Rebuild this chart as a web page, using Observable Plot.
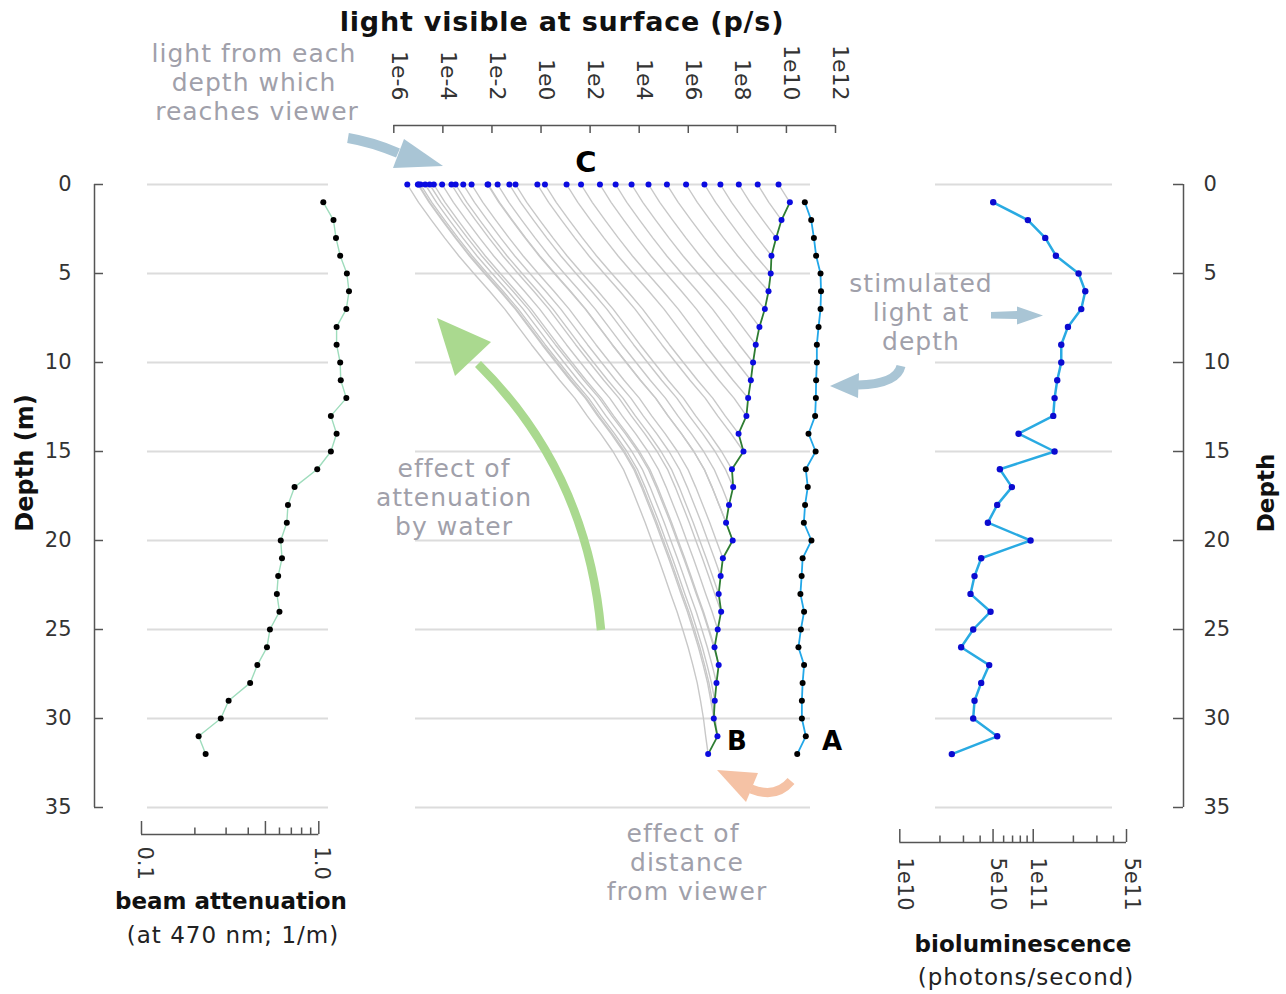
<!DOCTYPE html>
<html><head><meta charset="utf-8">
<script src="https://cdn.jsdelivr.net/npm/d3@7"></script>
<script src="https://cdn.jsdelivr.net/npm/@observablehq/plot@0.6"></script>
<style>
html,body{margin:0;padding:0;background:#fff;}
#chart{position:relative;width:1286px;height:994px;overflow:hidden;background:#fff;font-family:"DejaVu Sans",sans-serif;}
#chart svg{position:absolute;left:0;top:0;}
</style></head><body><div id="chart"></div>
<script>
// ---------------- data ----------------
const depth = [1,2,3,4,5,6,7,8,9,10,11,12,13,14,15,16,17,18,19,20,21,22,23,24,25,26,27,28,29,30,31,32];
const depthTicks = [0,5,10,15,20,25,30,35];
const depthDomain = [0, 35];
const surfaceDepth = 0;

// beam attenuation (at 470 nm; 1/m)
const beamAttenuation = [1.06,1.21,1.25,1.32,1.44,1.48,1.43,1.26,1.26,1.32,1.33,1.43,1.17,1.26,1.17,0.98,0.73,0.67,0.66,0.61,0.62,0.59,0.58,0.60,0.53,0.51,0.45,0.41,0.31,0.28,0.21,0.23];
const attenDomain = [0.1, 1];
const attenMajor = [0.1, 0.5, 1];
const attenMinor = [0.2,0.3,0.4,0.6,0.7,0.8,0.9];
const attenLabels = [0.1, 1];

// light (photons/s), log10 values
const stimulatedLog10 = [10.75,11.01,11.12,11.21,11.39,11.41,11.39,11.31,11.24,11.24,11.21,11.20,11.17,10.90,11.19,10.79,10.87,10.76,10.71,11.02,10.66,10.62,10.57,10.72,10.59,10.49,10.72,10.66,10.63,10.63,10.79,10.44]; // A
const distanceLog10   = [10.14,9.80,9.58,9.39,9.36,9.27,9.12,8.90,8.75,8.64,8.55,8.44,8.37,8.05,8.25,7.78,7.83,7.66,7.54,7.81,7.41,7.32,7.24,7.34,7.20,7.07,7.24,7.15,7.08,7.04,7.19,6.81]; // B
const surfaceLog10    = [9.68,8.83,8.06,7.31,6.66,5.91,5.13,4.38,3.69,3.04,2.40,1.63,1.04,0.16,-0.15,-1.04,-1.29,-1.77,-2.15,-2.18,-2.83,-3.17,-3.48,-3.65,-4.03,-4.37,-4.54,-4.72,-4.91,-5.02,-4.99,-5.45]; // C
const lightDomain = [1e-6, 1e12];
const lightTicks = [1e-6,1e-4,1e-2,1e0,1e2,1e4,1e6,1e8,1e10,1e12];

// bioluminescence (photons/second), log10
const bioLog10 = [10.70,10.96,11.09,11.17,11.34,11.39,11.36,11.26,11.21,11.21,11.18,11.16,11.15,10.89,11.16,10.75,10.84,10.73,10.66,10.98,10.61,10.56,10.53,10.68,10.55,10.46,10.67,10.61,10.56,10.55,10.73,10.39];
const bioDomain = [1e10, 5e11];
const bioMajor = [1e10,5e10,1e11,5e11];
const bioMinor = [2e10,3e10,4e10,6e10,7e10,8e10,9e10,2e11,3e11,4e11];
const bioLabels = ["1e10","5e10","1e11","5e11"];

// ---------------- derived table ----------------
const rows = depth.map((d, i) => ({
  depth: d, atten: beamAttenuation[i],
  A: 10 ** stimulatedLog10[i], B: 10 ** distanceLog10[i], C: 10 ** surfaceLog10[i],
  bio: 10 ** bioLog10[i]
}));
// cumulative attenuation, used to shape each path from its depth up to the surface
const cum = []; { let acc = 0, prev = surfaceDepth; for (const r of rows) { acc += r.atten * (r.depth - prev); prev = r.depth; cum.push(acc); } }
const paths = [];
rows.forEach((r, i) => {
  const lb = Math.log10(r.B), lc = Math.log10(r.C), total = cum[i];
  for (let k = i; k >= -1; k--) {
    const dk = k >= 0 ? rows[k].depth : surfaceDepth;
    const ak = k >= 0 ? cum[k] : 0;
    paths.push({src: i, depth: dk, v: 10 ** (lb - (lb - lc) * (total - ak) / total)});
  }
});

// ---------------- layout ----------------
const W = 1286, H = 994;
const Y_RANGE = [184, 807];
const GRID = "#dcdcdc", AXIS = "#555";
const chart = document.getElementById("chart");
function base(o) {
  return Object.assign({
    width: W, height: H,
    style: {position: "absolute", left: "0px", top: "0px", background: "transparent", overflow: "visible", maxWidth: "none", fontFamily: "DejaVu Sans, sans-serif", fontSize: "21px", color: "#333"}
  }, o);
}
function add(p) { chart.appendChild(p); }

// left depth axis
add(Plot.plot(base({
  marginLeft: 94, marginRight: W - 103, marginTop: 184, marginBottom: H - 807,
  x: {domain: [0, 1], axis: null},
  y: {domain: depthDomain, range: Y_RANGE},
  marks: [
    Plot.ruleX([0], {y1: depthDomain[0], y2: depthDomain[1], stroke: AXIS, strokeWidth: 1.5}),
    Plot.tickY(depthTicks, {y: d => d, stroke: AXIS, strokeWidth: 1.5}),
    Plot.axisY(depthTicks, {anchor: "left", tickSize: 0, tickPadding: 23, fontSize: 21, label: null})
  ]
})));
// right depth axis
add(Plot.plot(base({
  marginLeft: 1173, marginRight: W - 1183, marginTop: 184, marginBottom: H - 807,
  x: {domain: [0, 1], axis: null},
  y: {domain: depthDomain, range: Y_RANGE},
  marks: [
    Plot.ruleX([1], {y1: depthDomain[0], y2: depthDomain[1], stroke: AXIS, strokeWidth: 1.5}),
    Plot.tickY(depthTicks, {y: d => d, stroke: AXIS, strokeWidth: 1.5}),
    Plot.axisY(depthTicks, {anchor: "right", tickSize: 0, tickPadding: 20, fontSize: 21, label: null})
  ]
})));

// beam attenuation panel
add(Plot.plot(base({
  marginLeft: 147, marginRight: W - 328, marginTop: 184, marginBottom: H - 807,
  x: {type: "log", domain: attenDomain, range: [141, 318.3], axis: null},
  y: {domain: depthDomain, range: Y_RANGE, axis: null},
  marks: [
    Plot.gridY(depthTicks, {stroke: GRID, strokeOpacity: 1, strokeWidth: 2}),
    Plot.line(rows, {x: "atten", y: "depth", stroke: "#9edcbc", strokeWidth: 1.4}),
    Plot.dot(rows, {x: "atten", y: "depth", r: 3, fill: "#000"})
  ]
})));
// beam attenuation bottom axis
add(Plot.plot(base({
  marginLeft: 141, marginRight: W - 318.3, marginTop: 821, marginBottom: H - 834,
  x: {type: "log", domain: attenDomain, range: [141, 318.3]},
  y: {domain: [0, 1], range: [834, 821], axis: null},
  marks: [
    Plot.ruleY([0], {x1: attenDomain[0], x2: attenDomain[1], stroke: AXIS, strokeWidth: 1.5}),
    Plot.ruleX(attenMajor, {y1: 0, y2: 1, stroke: AXIS, strokeWidth: 1.5}),
    Plot.ruleX(attenMinor, {y1: 0, y2: 0.5, stroke: AXIS, strokeWidth: 1.5}),
    Plot.axisX(attenLabels, {anchor: "bottom", tickSize: 0, tickRotate: 90, tickPadding: 12, dx: 3, fontSize: 21, tickFormat: d => d.toFixed(1), label: null})
  ]
})));

// light panel
add(Plot.plot(base({
  marginLeft: 415, marginRight: W - 810, marginTop: 184, marginBottom: H - 807,
  x: {type: "log", domain: lightDomain, range: [393.3, 835], axis: null},
  y: {domain: depthDomain, range: Y_RANGE, axis: null},
  marks: [
    Plot.gridY(depthTicks, {stroke: GRID, strokeOpacity: 1, strokeWidth: 2}),
    Plot.line(paths, {x: "v", y: "depth", z: "src", stroke: "#c8c8c8", strokeWidth: 1.4}),
    Plot.line(rows, {x: "B", y: "depth", stroke: "#2e7d32", strokeWidth: 1.8}),
    Plot.line(rows, {x: "A", y: "depth", stroke: "#22a7e8", strokeWidth: 1.8}),
    Plot.dot(rows, {x: "B", y: "depth", r: 3, fill: "#0b0be0"}),
    Plot.dot(rows, {x: "A", y: "depth", r: 3, fill: "#000"}),
    Plot.dot(rows, {x: "C", y: surfaceDepth, r: 3, fill: "#0b0be0"})
  ]
})));
// light top axis
add(Plot.plot(base({
  marginLeft: 393.3, marginRight: W - 835, marginTop: 125, marginBottom: H - 133,
  x: {type: "log", domain: lightDomain, range: [393.3, 835]},
  y: {domain: [0, 1], range: [125, 133], axis: null},
  marks: [
    Plot.ruleY([0], {x1: lightDomain[0], x2: lightDomain[1], stroke: AXIS, strokeWidth: 1.5}),
    Plot.ruleX(lightTicks, {y1: 0, y2: 1, stroke: AXIS, strokeWidth: 1.5}),
    Plot.axisX(lightTicks, {anchor: "top", tickSize: 0, tickRotate: 90, tickPadding: 25, dx: 5, fontSize: 22, tickFormat: d => "1e" + Math.round(Math.log10(d)), label: null})
  ]
})));

// bioluminescence panel
add(Plot.plot(base({
  marginLeft: 935, marginRight: W - 1112, marginTop: 184, marginBottom: H - 807,
  x: {type: "log", domain: bioDomain, range: [899.3, 1126], axis: null},
  y: {domain: depthDomain, range: Y_RANGE, axis: null},
  marks: [
    Plot.gridY(depthTicks, {stroke: GRID, strokeOpacity: 1, strokeWidth: 2}),
    Plot.line(rows, {x: "bio", y: "depth", stroke: "#29aae2", strokeWidth: 2.5}),
    Plot.dot(rows, {x: "bio", y: "depth", r: 3.2, fill: "#0b0bd0"})
  ]
})));
// bioluminescence bottom axis
add(Plot.plot(base({
  marginLeft: 899.3, marginRight: W - 1126, marginTop: 829, marginBottom: H - 842,
  x: {type: "log", domain: bioDomain, range: [899.3, 1126], axis: null},
  y: {domain: [0, 1], range: [842, 829], axis: null},
  marks: [
    Plot.ruleY([0], {x1: bioDomain[0], x2: bioDomain[1], stroke: AXIS, strokeWidth: 1.5}),
    Plot.ruleX(bioMajor, {y1: 0, y2: 1, stroke: AXIS, strokeWidth: 1.5}),
    Plot.ruleX(bioMinor, {y1: 0, y2: 0.5, stroke: AXIS, strokeWidth: 1.5}),
    Plot.text(bioMajor, {x: d => d, y: 0, text: (d, i) => bioLabels[i], rotate: 90, textAnchor: "start", lineAnchor: "middle", dy: 15, dx: 5, fontSize: 21, fill: "#333"})
  ]
})));

// ---------------- annotations ----------------
const GRAYTXT = "#a0a0aa", ARROWBLUE = "#a9c5d5", GREEN = "#aad98f", SALMON = "#f5c2a5";
const ns = "http://www.w3.org/2000/svg";
const ov = document.createElementNS(ns, "svg");
ov.setAttribute("width", W); ov.setAttribute("height", H);
ov.setAttribute("font-family", "DejaVu Sans, sans-serif");
ov.innerHTML = `
  <path d="M348,138 Q372,142 398,153" fill="none" stroke="${ARROWBLUE}" stroke-width="10"/>
  <polygon points="443,166 404,139 393,168" fill="${ARROWBLUE}"/>
  <path d="M601,630 C592,530 555,440 478,364" fill="none" stroke="${GREEN}" stroke-width="8.5"/>
  <polygon points="437,318 455,376 491,342" fill="${GREEN}"/>
  <path d="M791,781 Q776,799 751,789" fill="none" stroke="${SALMON}" stroke-width="9"/>
  <polygon points="717,770 758,773 746,802" fill="${SALMON}"/>
  <polygon points="991,312 1017,311 1017,306.5 1043,315.5 1017,324.5 1017,319 991,318.5" fill="${ARROWBLUE}"/>
  <path d="M901,366 Q897,384 858,385" fill="none" stroke="${ARROWBLUE}" stroke-width="9"/>
  <polygon points="830,386 859,373 858,398" fill="${ARROWBLUE}"/>

  <text x="562" y="31" text-anchor="middle" font-weight="bold" font-size="27" letter-spacing="0.8" fill="#111">light visible at surface (p/s)</text>
  <text transform="translate(33,463) rotate(-90)" text-anchor="middle" font-weight="bold" font-size="24" fill="#111">Depth (m)</text>
  <text transform="translate(1274,493) rotate(-90)" text-anchor="middle" font-weight="bold" font-size="23" fill="#111">Depth</text>
  <text x="231" y="909" text-anchor="middle" font-weight="bold" font-size="23" fill="#111">beam attenuation</text>
  <text x="233" y="943" text-anchor="middle" font-size="23" letter-spacing="1" fill="#222">(at 470 nm; 1/m)</text>
  <text x="1023" y="952" text-anchor="middle" font-weight="bold" font-size="23" fill="#111">bioluminescence</text>
  <text x="1026" y="985" text-anchor="middle" font-size="23" letter-spacing="1" fill="#222">(photons/second)</text>

  <g font-size="25" letter-spacing="1" fill="${GRAYTXT}" text-anchor="middle">
    <text x="254" y="62">light from each</text>
    <text x="254" y="91">depth which</text>
    <text x="257" y="120">reaches viewer</text>
    <text x="921" y="292">stimulated</text>
    <text x="921" y="321">light at</text>
    <text x="921" y="350">depth</text>
    <text x="454" y="477">effect of</text>
    <text x="454" y="506">attenuation</text>
    <text x="454" y="535">by water</text>
    <text x="683" y="842">effect of</text>
    <text x="687" y="871">distance</text>
    <text x="687" y="900">from viewer</text>
  </g>
  <g font-weight="bold" fill="#000" text-anchor="middle">
    <text x="586" y="172" font-size="29">C</text>
    <text x="737" y="750" font-size="26">B</text>
    <text x="832" y="750" font-size="26">A</text>
  </g>`;
chart.appendChild(ov);
</script>
</body></html>
